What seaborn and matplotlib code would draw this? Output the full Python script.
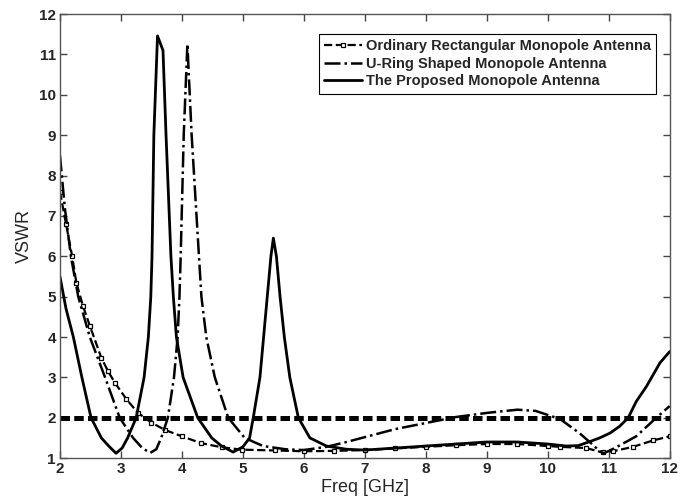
import numpy as np
import pandas as pd
import matplotlib
matplotlib.use("Agg")
import matplotlib.pyplot as plt
import seaborn as sns

# values
freq_rect = [2.0, 2.1, 2.2, 2.27, 2.38, 2.49, 2.68, 2.79, 2.90, 3.09, 3.28, 3.50, 3.72,
             4.0, 4.32, 4.65, 4.98, 5.52, 6.0, 6.5, 7.0, 7.5, 8.0, 8.5, 9.0, 9.5, 10.0,
             10.2, 10.63, 10.9, 11.07, 11.4, 11.73, 12.0]
vswr_rect = [7.6, 6.8, 6.0, 5.34, 4.76, 4.28, 3.48, 3.15, 2.87, 2.46, 2.12, 1.88, 1.70,
             1.54, 1.37, 1.27, 1.21, 1.19, 1.17, 1.18, 1.2, 1.24, 1.28, 1.32, 1.35, 1.35, 1.3,
             1.28, 1.25, 1.14, 1.17, 1.28, 1.44, 1.54]

freq_uring = [2.0, 2.08, 2.18, 2.30, 2.49, 2.74, 2.98, 3.20, 3.35, 3.48, 3.58, 3.66, 3.77,
              3.87, 3.93, 3.96, 3.98, 4.03, 4.09, 4.16, 4.28, 4.32, 4.40, 4.54, 4.76, 5.03,
              5.33, 5.7, 6.0, 6.37, 6.7, 7.0, 7.5, 8.0, 8.5, 9.0, 9.5, 9.8, 10.0, 10.2,
              10.52, 10.74, 10.85, 10.92, 11.1, 11.45, 11.78, 12.0]
vswr_uring = [8.5, 7.2, 6.0, 5.0, 4.0, 3.0, 2.0, 1.5, 1.25, 1.13, 1.22, 1.5, 2.0,
              3.0, 4.0, 5.0, 6.0, 9.0, 11.26, 9.0, 6.0, 5.0, 4.0, 3.0, 2.0, 1.5,
              1.3, 1.22, 1.2, 1.28, 1.4, 1.52, 1.72, 1.87, 2.02, 2.12, 2.2, 2.17, 2.07, 1.97,
              1.62, 1.33, 1.17, 1.12, 1.25, 1.54, 2.0, 2.29]

freq_prop = [2.0, 2.1, 2.22, 2.36, 2.51, 2.68, 2.8, 2.92, 3.02, 3.11, 3.25, 3.38, 3.45,
             3.49, 3.51, 3.54, 3.60, 3.69, 3.74, 3.82, 3.86, 3.91, 4.02, 4.26, 4.49, 4.65,
             4.84, 5.0, 5.11, 5.17, 5.28, 5.34, 5.40, 5.46, 5.50, 5.55, 5.61, 5.68, 5.77,
             5.91, 6.10, 6.37, 6.7, 7.0, 7.5, 8.0, 8.5, 9.0, 9.5, 10.0, 10.3, 10.5, 10.69,
             10.85, 11.02, 11.18, 11.32, 11.45, 11.62, 11.84, 12.0]
vswr_prop = [5.5, 4.7, 4.0, 3.0, 2.0, 1.5, 1.3, 1.12, 1.25, 1.5, 2.0, 3.0, 4.0,
             5.0, 6.0, 9.0, 11.46, 11.1, 9.0, 6.0, 5.0, 4.0, 3.0, 2.0, 1.5, 1.3,
             1.15, 1.28, 1.5, 2.0, 3.0, 4.0, 5.0, 6.0, 6.45, 6.0, 5.0, 4.0, 3.0,
             2.0, 1.5, 1.3, 1.22, 1.2, 1.25, 1.3, 1.35, 1.4, 1.4, 1.35, 1.3, 1.31, 1.41,
             1.5, 1.62, 1.79, 2.0, 2.4, 2.78, 3.36, 3.64]

threshold = 2
labels = ["Ordinary Rectangular Monopole Antenna",
          "U-Ring Shaped Monopole Antenna",
          "The Proposed Monopole Antenna"]
x_ticks = list(range(2, 13))
y_ticks = list(range(1, 13))

sns.set_style("ticks")
plt.rcParams["font.family"] = ["Liberation Sans", "DejaVu Sans"]

fig = plt.figure(figsize=(6.89, 5.04), dpi=100)
ax = fig.add_axes([0.087, 0.091, 0.885, 0.881])

sns.lineplot(x=freq_rect, y=vswr_rect, ax=ax, color="black", linestyle="--", linewidth=1.6,
             marker="s", markersize=2.8, markerfacecolor="white", markeredgecolor="black",
             markeredgewidth=0.9, label=labels[0])
sns.lineplot(x=freq_uring, y=vswr_uring, ax=ax, color="black", linestyle="-.", linewidth=1.8,
             label=labels[1])
sns.lineplot(x=freq_prop, y=vswr_prop, ax=ax, color="black", linestyle="-", linewidth=2.0,
             label=labels[2])
ax.axhline(threshold, color="black", linewidth=3.6, linestyle=(0, (1.9, 0.85)))

ax.set_xlim(2, 12)
ax.set_ylim(1, 12)
ax.set_xticks(x_ticks)
ax.set_yticks(y_ticks)
ax.tick_params(direction="in", length=5, width=1, top=True, right=True,
               labelsize=11, pad=3, color="#444444")
for t in ax.get_xticklabels() + ax.get_yticklabels():
    t.set_fontweight("bold")
for sp in ax.spines.values():
    sp.set_color("#555555")
    sp.set_linewidth(1)
ax.set_xlabel("Freq [GHz]", fontsize=13, labelpad=2)
ax.set_ylabel("VSWR", fontsize=13, labelpad=4)

leg = ax.legend(loc="upper right", bbox_to_anchor=(0.978, 0.955), borderaxespad=0,
                fancybox=False, edgecolor="black", framealpha=1, handlelength=2.6,
                handletextpad=0.3, borderpad=0.35, labelspacing=0.25,
                prop={"weight": "bold", "size": 10.5})
leg.get_frame().set_linewidth(0.8)

fig.savefig("out.png", dpi=100)
